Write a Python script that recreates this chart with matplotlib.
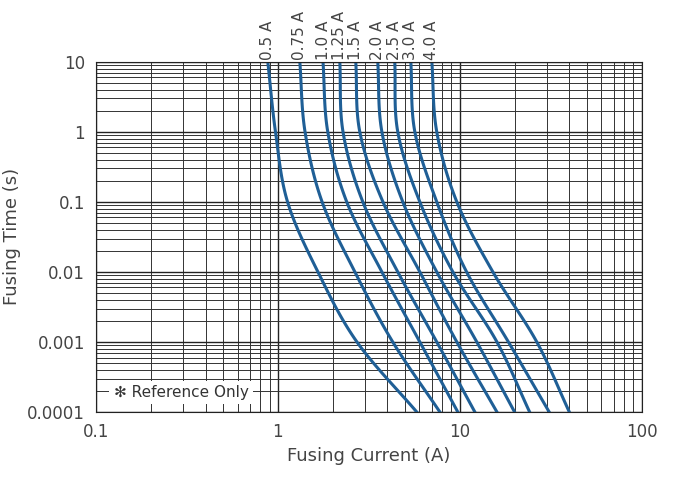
import numpy as np
import matplotlib.pyplot as plt

# fusing time points (s) and the current read for each rating (A)
times = [10, 1, 0.1, 0.01, 0.001, 0.0001]
ratings = ["0.5 A", "0.75 A", "1.0 A", "1.25 A", "1.5 A", "2.0 A", "2.5 A", "3.0 A", "4.0 A"]
currents = [
    [0.88, 0.97, 1.13, 1.66, 2.72, 5.8],
    [1.32, 1.41, 1.75, 2.65, 4.28, 7.77],
    [1.77, 1.88, 2.39, 3.73, 6.03, 9.75],
    [2.19, 2.28, 2.93, 4.56, 7.47, 12.1],
    [2.68, 2.82, 3.78, 6.03, 9.63, 16.0],
    [3.54, 3.73, 4.86, 7.47, 12.4, 20.0],
    [4.39, 4.56, 6.03, 9.16, 16.0, 24.2],
    [5.38, 5.66, 7.47, 10.9, 18.5, 31.0],
    [7.02, 7.47, 9.63, 15.2, 26.5, 40.0],
]


def smooth(xs, ys, n=20):
    # Catmull-Rom through the read points, in log space, just for drawing
    lx, ly = np.log10(xs), np.log10(ys)
    px = np.concatenate([[2 * lx[0] - lx[1]], lx, [2 * lx[-1] - lx[-2]]])
    py = np.concatenate([[2 * ly[0] - ly[1]], ly, [2 * ly[-1] - ly[-2]]])
    ox, oy = [], []
    t = np.linspace(0, 1, n, endpoint=False)
    for i in range(1, len(px) - 2):
        for p, o in ((px, ox), (py, oy)):
            p0, p1, p2, p3 = p[i - 1:i + 3]
            o.extend(0.5 * (2 * p1 + (-p0 + p2) * t + (2 * p0 - 5 * p1 + 4 * p2 - p3) * t**2
                            + (-p0 + 3 * p1 - 3 * p2 + p3) * t**3))
    ox.append(lx[-1]); oy.append(ly[-1])
    return 10 ** np.array(ox), 10 ** np.array(oy)


fig = plt.figure(figsize=(6.93, 4.83), dpi=100)
ax = fig.add_axes([0.1385, 0.147, 0.7875, 0.725])
ax.set_xscale("log")
ax.set_yscale("log")
ax.set_xlim(0.1, 100)
ax.set_ylim(0.0001, 10)

ax.grid(which="major", color="#222222", lw=1.0)
ax.grid(which="minor", color="#333333", lw=0.7)
ax.set_axisbelow(True)
for s in ax.spines.values():
    s.set_color("#222222")
ax.tick_params(which="both", length=0, labelsize=12, colors="#444444", pad=8)
ax.set_xticks([0.1, 1, 10, 100], ["0.1", "1", "10", "100"])
ax.set_yticks(times[::-1], ["0.0001", "0.001", "0.01", "0.1", "1", "10"])

for lab, cur in zip(ratings, currents):
    sx, sy = smooth(cur, times)
    ax.plot(sx, sy, color="#1f5f96", lw=2.2, solid_joinstyle="round")
    ax.text(cur[0], 10.6, lab, rotation=90, ha="center", va="bottom",
            fontsize=11, color="#444444")

ax.set_xlabel("Fusing Current (A)", fontsize=13, color="#444444", labelpad=4)
ax.set_ylabel("Fusing Time (s)", fontsize=13, color="#444444")
ax.text(0.125, 0.00019, "✻ Reference Only", fontsize=11, color="#333333",
        va="center", bbox=dict(facecolor="white", edgecolor="none", pad=3))

fig.savefig("out.png")
